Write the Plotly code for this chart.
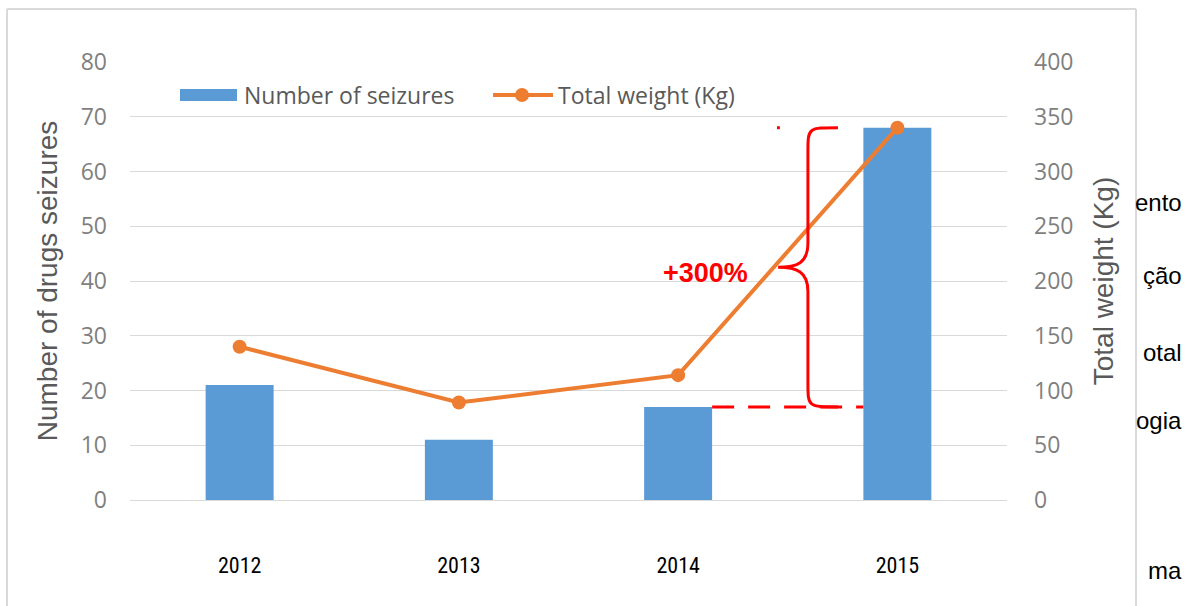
import plotly.graph_objects as go

# ---- data ----
years = [2012, 2013, 2014, 2015]
seizures = [21, 11, 17, 68]
weight_kg = [140, 89, 114, 340]
y1_ticks = [0, 10, 20, 30, 40, 50, 60, 70, 80]
y2_ticks = [0, 50, 100, 150, 200, 250, 300, 350, 400]
doc_fragments = ["ento", "ção", "otal", "ogia", "ma"]

W, H = 1185, 606
ML, MR, MT, MB = 130, 178, 62, 106
PW, PH = W - ML - MR, H - MT - MB

BLUE = "#5B9BD5"
ORANGE = "#ED7D31"
RED = "#FF0000"
GRID = "#D9D9D9"
GRAY_TXT = "#7F7F7F"
TITLE_TXT = "#595959"
SANS = "Open Sans, Noto Sans, Arial, sans-serif"
NARROW = "Liberation Sans Narrow, Roboto Condensed, DejaVu Sans Condensed, Arial Narrow, Liberation Sans, sans-serif"

bar_w = 0.31
y1_max, y2_max = 80, 400
ratio = y2_max / y1_max


def px_x(p):
    return (p - ML) / PW


def px_y(p):
    return (H - MB - p) / PH


fig = go.Figure()
fig.add_trace(go.Bar(x=years, y=seizures, name="Number of seizures",
                     marker=dict(color=BLUE, line=dict(width=0)), width=bar_w,
                     yaxis="y"))
fig.add_trace(go.Scatter(x=years, y=weight_kg, name="Total weight (Kg)",
                         mode="lines+markers", yaxis="y2",
                         line=dict(color=ORANGE, width=4),
                         marker=dict(color=ORANGE, size=14)))

shapes = []
# dashed red line at the 2014 bar top, from the 2014 bar to the 2015 bar
shapes.append(dict(type="line", xref="x", yref="y",
                   x0=years[2] + bar_w / 2, x1=years[3] - bar_w / 2,
                   y0=seizures[2], y1=seizures[2],
                   line=dict(color=RED, width=3, dash="22px,14px")))
# curly brace from 2014 level up to 2015 weight
top = weight_kg[3]
bot = seizures[2] * ratio
mid = (top + bot) / 2
xt, xv, xp = 2014.729, 2014.592, 2014.456
r = 22
brace = (f"M {xt},{top} C {xv},{top} {xv},{top} {xv},{top - r} "
         f"L {xv},{mid + r} C {xv},{mid + 4} {xv - 0.05},{mid} {xp},{mid} "
         f"C {xv - 0.05},{mid} {xv},{mid - 4} {xv},{mid - r} "
         f"L {xv},{bot + r} C {xv},{bot} {xv},{bot} {xt},{bot}")
shapes.append(dict(type="path", xref="x", yref="y2", path=brace,
                   line=dict(color=RED, width=3)))
# tiny red mark near the top
shapes.append(dict(type="line", xref="x", yref="y2", x0=xp - 0.005, x1=xp + 0.008,
                   y0=top, y1=top, line=dict(color=RED, width=3)))

# custom legend
shapes.append(dict(type="rect", xref="paper", yref="paper",
                   x0=px_x(180), x1=px_x(237), y0=px_y(101), y1=px_y(89),
                   fillcolor=BLUE, line=dict(width=0)))
shapes.append(dict(type="line", xref="paper", yref="paper",
                   x0=px_x(493), x1=px_x(553), y0=px_y(95), y1=px_y(95),
                   line=dict(color=ORANGE, width=4)))
shapes.append(dict(type="circle", xref="paper", yref="paper",
                   xsizemode="pixel", ysizemode="pixel",
                   xanchor=px_x(522), yanchor=px_y(95),
                   x0=-7, x1=7, y0=-7, y1=7,
                   fillcolor=ORANGE, line=dict(width=0)))

# outer chart border (left, top, right)
bx0, bx1, byt, byb = px_x(7), px_x(1136), px_y(9), px_y(640)
for (a, b, c, d) in [(bx0, byb, bx0, byt), (bx0, byt, bx1, byt), (bx1, byt, bx1, byb)]:
    shapes.append(dict(type="line", xref="paper", yref="paper",
                       x0=a, y0=b, x1=c, y1=d, line=dict(color=GRID, width=2)))

annotations = [
    dict(text="<b>+300%</b>", xref="x", yref="y2", x=2014.123, y=207,
         showarrow=False, font=dict(family="Liberation Sans, Arial, sans-serif",
                                    size=27, color=RED)),
    dict(text="Number of seizures", xref="paper", yref="paper",
         x=px_x(242), y=px_y(95), xanchor="left", yanchor="middle",
         showarrow=False, font=dict(family=SANS, size=23, color=TITLE_TXT)),
    dict(text="Total weight (Kg)", xref="paper", yref="paper",
         x=px_x(556), y=px_y(95), xanchor="left", yanchor="middle",
         showarrow=False, font=dict(family=SANS, size=23, color=TITLE_TXT)),
]
frag_y = [203, 275, 352, 420, 570]
for t, yy in zip(doc_fragments, frag_y):
    annotations.append(dict(text=t, xref="paper", yref="paper",
                            x=px_x(1184), y=px_y(yy), xanchor="right", yanchor="middle",
                            showarrow=False,
                            font=dict(family="Liberation Sans, Arial, sans-serif",
                                      size=24, color="#000000")))

fig.update_layout(
    width=W, height=H,
    margin=dict(l=ML, r=MR, t=MT, b=MB, pad=0),
    paper_bgcolor="white", plot_bgcolor="white",
    showlegend=False,
    shapes=shapes, annotations=annotations,
    xaxis=dict(range=[2011.5, 2015.5], tickvals=years,
               ticktext=[str(y) for y in years],
               showgrid=False, zeroline=False, showline=False,
               ticks="", ticklabelstandoff=50,
               tickfont=dict(family=NARROW, size=22, color="#000000")),
    yaxis=dict(range=[0, y1_max], tickvals=y1_ticks,
               showgrid=True, gridcolor=GRID, gridwidth=1,
               zeroline=True, zerolinecolor=GRID, zerolinewidth=1,
               showline=False, ticks="", ticklabelstandoff=22,
               tickfont=dict(family=SANS, size=23, color=GRAY_TXT),
               title=dict(text="Number of drugs seizures", standoff=14,
                          font=dict(family="Liberation Sans, Arial, sans-serif",
                                    size=28, color=TITLE_TXT))),
    yaxis2=dict(range=[0, y2_max], tickvals=y2_ticks, overlaying="y", side="right",
                showgrid=False, zeroline=False, showline=False,
                ticks="", ticklabelstandoff=26,
                tickfont=dict(family=SANS, size=23, color=GRAY_TXT),
                title=dict(text="Total weight (Kg)", standoff=20,
                           font=dict(family="Liberation Sans, Arial, sans-serif",
                                     size=28, color=TITLE_TXT))),
)

fig.write_html("out.html", config={"displayModeBar": False},
               post_script="document.body.style.margin='0';")
